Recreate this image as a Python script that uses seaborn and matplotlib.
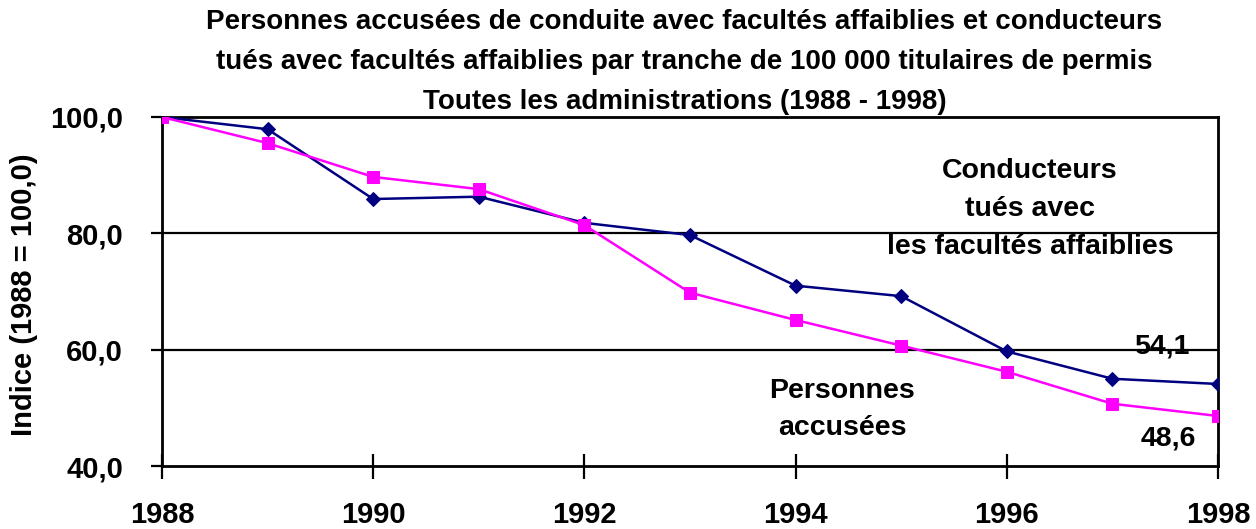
import matplotlib
matplotlib.use("Agg")
import matplotlib.pyplot as plt
import seaborn as sns
import pandas as pd

years = [1988, 1989, 1990, 1991, 1992, 1993, 1994, 1995, 1996, 1997, 1998]
conducteurs_tues = [100.0, 97.9, 85.9, 86.3, 81.8, 79.7, 71.0, 69.2, 59.7, 55.0, 54.1]
personnes_accusees = [100.0, 95.5, 89.7, 87.6, 81.4, 69.8, 65.1, 60.7, 56.2, 50.7, 48.6]
x_ticks = [1988, 1990, 1992, 1994, 1996, 1998]
y_ticks = [40, 60, 80, 100]
y_tick_labels = ["40,0", "60,0", "80,0", "100,0"]

title = ("Personnes accusées de conduite avec facultés affaiblies et conducteurs\n"
         "tués avec facultés affaiblies par tranche de 100 000 titulaires de permis\n"
         "Toutes les administrations (1988 - 1998)")

sns.set_theme(style="white")
plt.rcParams["font.family"] = ["Liberation Sans", "DejaVu Sans"]
plt.rcParams["font.weight"] = "bold"
for k in ["text.color", "axes.labelcolor", "xtick.color", "ytick.color"]:
    plt.rcParams[k] = "black"

df_c = pd.DataFrame({"annee": years, "indice": conducteurs_tues})
df_p = pd.DataFrame({"annee": years, "indice": personnes_accusees})

fig = plt.figure(figsize=(12.56, 5.29), dpi=100)
ax = fig.add_axes([162 / 1256, 1 - 466 / 529, (1218 - 162) / 1256, (466 - 117) / 529])

# gridlines
for yv in [60, 80]:
    ax.axhline(yv, color="black", lw=1.6, zorder=1)

sns.lineplot(data=df_c, x="annee", y="indice", ax=ax, color="#000080", lw=1.8,
             marker="D", markersize=7, markeredgecolor="#000080", zorder=3)
sns.lineplot(data=df_p, x="annee", y="indice", ax=ax, color="#FF00FF", lw=1.8,
             marker="s", markersize=8, markeredgecolor="#FF00FF", zorder=3)

ax.set_xlim(1988, 1998)
ax.set_ylim(40, 100)
ax.set_xticks(x_ticks)
ax.set_xticklabels([str(v) for v in x_ticks], fontsize=21, fontweight="bold")
ax.set_yticks(y_ticks)
ax.set_yticklabels(y_tick_labels, fontsize=21, fontweight="bold")
ax.tick_params(axis="x", direction="inout", length=18, width=1.6, color="black", pad=16, bottom=True)
ax.tick_params(axis="y", direction="out", length=8, width=1.6, color="black", pad=20, left=True)
for s in ax.spines.values():
    s.set_visible(True)
    s.set_color("black")
    s.set_linewidth(2)

ax.set_xlabel("")
ax.set_ylabel("Indice (1988 = 100,0)", fontsize=21, fontweight="bold")
ax.yaxis.set_label_coords(-0.117, 0.49)

fig.text(0.545, 1 - 62 / 529, title, ha="center", va="center", fontsize=20, fontweight="bold",
         linespacing=1.7)

ax.text(1996.22, 84.2, "Conducteurs\ntués avec\nles facultés affaiblies", ha="center",
        va="center", fontsize=20.5, fontweight="bold", linespacing=1.58)
ax.text(1994.44, 49.7, "Personnes\naccusées", ha="center", va="center",
        fontsize=20.5, fontweight="bold", linespacing=1.58)
ax.text(1997.47, 60.5, "54,1", ha="center", va="center", fontsize=20.5, fontweight="bold")
ax.text(1997.53, 44.8, "48,6", ha="center", va="center", fontsize=20.5, fontweight="bold")

fig.savefig("out.png", dpi=100)
